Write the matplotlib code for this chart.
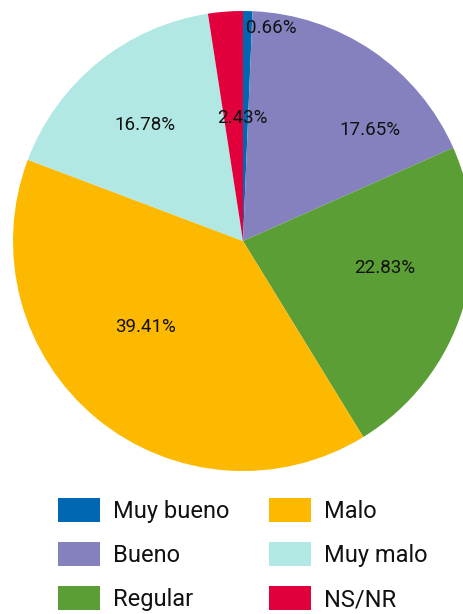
import matplotlib
matplotlib.use("Agg")
import matplotlib.pyplot as plt
import numpy as np

categories = ["Muy bueno", "Bueno", "Regular", "Malo", "Muy malo", "NS/NR"]
values = [0.66, 17.65, 22.83, 39.41, 16.78, 2.43]
labels = ["0.66%", "17.65%", "22.83%", "39.41%", "16.78%", "2.43%"]
colors = ["#0068B3", "#8481BE", "#5B9E35", "#FDB800", "#B1E8E3", "#E1003B"]

# label layout: (radius fraction, angle in degrees)
label_pos = [(0.934, 82.5), (0.733, 41.2), (0.628, -10.8), (0.564, 221.6), (0.66, 130.2), (0.535, 90.5)]

plt.rcParams['font.family'] = ['Roboto', 'DejaVu Sans']

fig = plt.figure(figsize=(4.64, 6.14), dpi=100)
ax = fig.add_axes([13/464, 1 - 471/614, 460/464, 460/614])
ax.pie(values, colors=colors, startangle=90, counterclock=False,
       wedgeprops=dict(linewidth=0), radius=1)
ax.set_xlim(-1, 1)
ax.set_ylim(-1, 1)
ax.set_aspect('equal')
ax.axis('off')

for lab, (r, a) in zip(labels, label_pos):
    t = np.deg2rad(a)
    ax.text(r*np.cos(t), r*np.sin(t), lab, ha='center', va='center',
            fontsize=13.5, color='#111111')

from matplotlib.patches import Patch
handles = [Patch(facecolor=c, edgecolor='none') for c in colors]
fig.legend(handles, categories, ncol=2, loc='upper left',
           bbox_to_anchor=(58/464, 1 - 498/614), frameon=False,
           fontsize=17, handlelength=1.78, handleheight=1.19,
           handletextpad=0.55, columnspacing=1.68, labelspacing=0.81,
           borderpad=0, borderaxespad=0, labelcolor='#111111')

fig.savefig("out.png", dpi=100)
